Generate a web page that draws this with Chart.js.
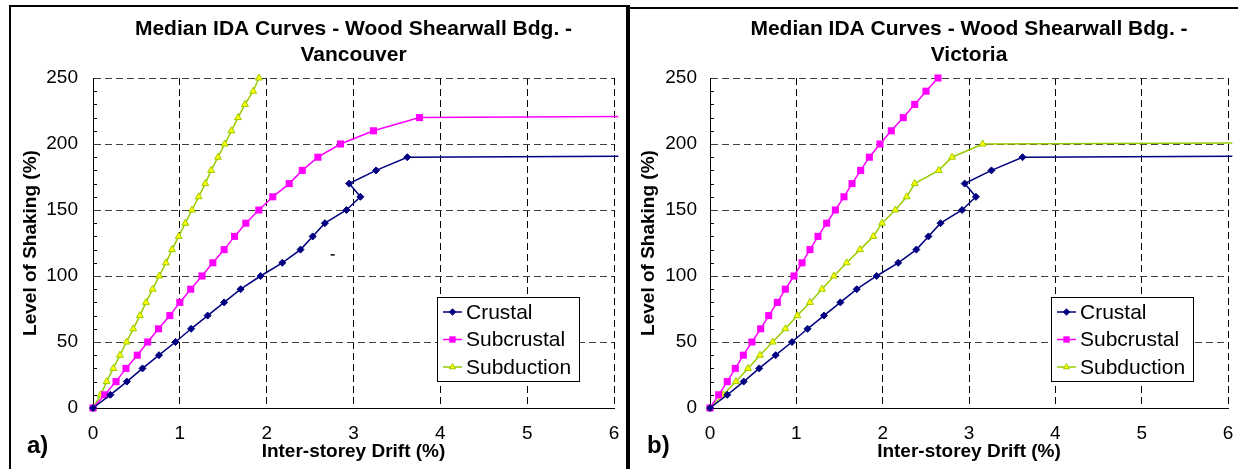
<!DOCTYPE html>
<html>
<head>
<meta charset="utf-8">
<script src="https://cdn.jsdelivr.net/npm/chart.js@4.4.0/dist/chart.umd.min.js"></script>
<style>
  body { margin: 0; background: #fff; width: 1238px; height: 469px; position: relative; overflow: hidden; }
  .panel { position: absolute; top: 0; height: 469px; }
  #pa { left: 0; width: 626px; }
  #pb { left: 629px; width: 609px; }
  .rule { position: absolute; background: #000; }
</style>
</head>
<body>
<div class="panel" id="pa"><canvas id="chartA" width="626" height="469"></canvas></div>
<div class="panel" id="pb"><canvas id="chartB" width="609" height="469"></canvas></div>
<div class="rule" style="left:9px;top:5px;width:2px;height:464px"></div>
<div class="rule" style="left:9px;top:5px;width:617px;height:2px"></div>
<div class="rule" style="left:626px;top:5px;width:4px;height:464px"></div>
<div class="rule" style="left:629px;top:7px;width:609px;height:2px"></div>

<script>
// values: drift (%) vs level of shaking (%)
const crustalDrift = [0, 0.20, 0.39, 0.57, 0.76, 0.95, 1.13, 1.32, 1.51, 1.70, 1.93, 2.18, 2.39, 2.53, 2.67, 2.92, 3.08, 2.95, 3.26, 3.62, 6.05];
const crustalLevel = [0, 10, 20, 30, 40, 50, 60, 70, 80, 90, 100, 110, 120, 130, 140, 150, 160, 170, 180, 190, 190.8];

const vanSubcrustalDrift = [0, 0.135, 0.265, 0.38, 0.51, 0.63, 0.755, 0.885, 1.00, 1.125, 1.255, 1.38, 1.51, 1.63, 1.76, 1.91, 2.07, 2.26, 2.41, 2.59, 2.85, 3.23, 3.76, 6.05];
const vanSubcrustalLevel = [0, 10, 20, 30, 40, 50, 60, 70, 80, 90, 100, 110, 120, 130, 140, 150, 160, 170, 180, 190, 200, 210, 220, 220.8];

const vanSubductionDrift = [0, 0.088, 0.157, 0.234, 0.31, 0.387, 0.464, 0.54, 0.61, 0.687, 0.763, 0.84, 0.91, 0.987, 1.063, 1.14, 1.217, 1.293, 1.36, 1.44, 1.517, 1.594, 1.67, 1.75, 1.845, 1.91];
const vanSubductionLevel = [0, 10, 20, 30, 40, 50, 60, 70, 80, 90, 100, 110, 120, 130, 140, 150, 160, 170, 180, 190, 200, 210, 220, 230, 240, 250];

const vicSubcrustalDrift = [0, 0.10, 0.20, 0.293, 0.386, 0.486, 0.587, 0.68, 0.78, 0.873, 0.973, 1.066, 1.158, 1.251, 1.351, 1.452, 1.552, 1.645, 1.745, 1.846, 1.969, 2.10, 2.239, 2.371, 2.502, 2.641];
const vicSubcrustalLevel = [0, 10, 20, 30, 40, 50, 60, 70, 80, 90, 100, 110, 120, 130, 140, 150, 160, 170, 180, 190, 200, 210, 220, 230, 240, 250];

const vicSubductionDrift = [0, 0.154, 0.301, 0.44, 0.579, 0.726, 0.873, 1.012, 1.158, 1.297, 1.436, 1.583, 1.737, 1.892, 1.992, 2.147, 2.278, 2.371, 2.649, 2.803, 3.158, 6.05];
const vicSubductionLevel = [0, 10, 20, 30, 40, 50, 60, 70, 80, 90, 100, 110, 120, 130, 140, 150, 160, 170, 180, 190, 200, 200.8];

const strayMark = [{ x: 2.76, y: 116 }];

const seriesNames = ['Crustal', 'Subcrustal', 'Subduction'];
const xTicks = [0, 1, 2, 3, 4, 5, 6];
const yTicks = [0, 50, 100, 150, 200, 250];
const minorTicks = [10, 20, 30, 40, 60, 70, 80, 90, 110, 120, 130, 140, 160, 170, 180, 190, 210, 220, 230, 240];

const FONT = 'Arial, "Liberation Sans", sans-serif';

const pts = (xs, ys) => xs.map((x, i) => ({ x: x, y: ys[i] }));
// points past the right edge only carry the line out, no marker
const radiusFor = r => ctx => (ctx.raw && ctx.raw.x > 6 ? 0 : r);

function crustalSet() {
  return {
    label: seriesNames[0], data: pts(crustalDrift, crustalLevel),
    borderColor: '#000080', backgroundColor: '#000080', borderWidth: 1.5,
    pointStyle: 'rectRot', pointRadius: radiusFor(3.5), pointBorderWidth: 1, legendRadius: 3.2
  };
}
function subcrustalSet(xs, ys) {
  return {
    label: seriesNames[1], data: pts(xs, ys),
    borderColor: '#FF00FF', backgroundColor: '#FF00FF', borderWidth: 1.5,
    pointStyle: 'rect', pointRadius: radiusFor(5), pointBorderWidth: 0, legendRadius: 4.5
  };
}
function subductionSet(xs, ys) {
  return {
    label: seriesNames[2], data: pts(xs, ys),
    borderColor: '#99CC00', backgroundColor: '#FFFF00', borderWidth: 1.5,
    pointStyle: 'triangle', pointRadius: radiusFor(4), pointBorderWidth: 1, legendRadius: 3.5
  };
}

// minor y ticks, in-plot legend and panel tag
const extras = {
  id: 'extras',
  afterDraw(chart, args, opts) {
    const { ctx, chartArea: a, scales: { y } } = chart;
    ctx.save();
    ctx.strokeStyle = '#000';
    ctx.lineWidth = 1;
    minorTicks.forEach(v => {
      const py = Math.round(y.getPixelForValue(v)) + 0.5;
      ctx.beginPath(); ctx.moveTo(a.left, py); ctx.lineTo(a.left + 4, py); ctx.stroke();
    });

    const bw = 142, bh = 84;
    const bx = a.right - 35 - bw, by = a.bottom - 27 - bh;
    ctx.fillStyle = '#fff';
    ctx.fillRect(bx, by, bw, bh);
    ctx.strokeRect(Math.round(bx) + 0.5, Math.round(by) + 0.5, bw, bh);
    ctx.font = '21px ' + FONT;
    ctx.textBaseline = 'middle';
    ctx.textAlign = 'left';
    chart.data.datasets.filter(d => d.label).forEach((d, i) => {
      const ry = by + 15 + i * 27.5;
      ctx.strokeStyle = d.borderColor;
      ctx.lineWidth = d.borderWidth;
      ctx.beginPath(); ctx.moveTo(bx + 6, ry); ctx.lineTo(bx + 25, ry); ctx.stroke();
      ctx.fillStyle = d.backgroundColor;
      ctx.lineWidth = d.pointBorderWidth;
      Chart.helpers.drawPoint(ctx, { pointStyle: d.pointStyle, radius: d.legendRadius, rotation: 0, borderWidth: d.pointBorderWidth }, bx + 15.5, ry);
      ctx.fillStyle = '#000';
      ctx.fillText(d.label, bx + 29, ry + 1);
    });

    ctx.font = 'bold 24px ' + FONT;
    ctx.textBaseline = 'alphabetic';
    ctx.fillStyle = '#000';
    ctx.fillText(opts.tag, opts.tagX, 453);
    ctx.restore();
  }
};

function makeChart(id, cfg) {
  return new Chart(document.getElementById(id), {
    type: 'line',
    data: { datasets: cfg.datasets },
    options: {
      responsive: false,
      animation: false,
      events: [],
      layout: { padding: { left: 0, right: cfg.padRight, top: 0, bottom: 0 } },
      datasets: { line: { clip: 6, tension: 0, fill: false } },
      scales: {
        x: {
          type: 'linear', min: 0, max: 6,
          afterBuildTicks: s => { s.ticks = xTicks.map(v => ({ value: v })); },
          afterFit: s => { s.height = 61; s.paddingLeft = 0; s.paddingRight = 0; },
          ticks: { color: '#000', font: { family: FONT, size: 19 }, padding: 14 },
          grid: { color: '#000', lineWidth: 1, drawTicks: false },
          border: { display: true, color: '#000', width: 1, dash: [7, 4] },
          title: { display: true, text: 'Inter-storey Drift (%)', color: '#000', font: { family: FONT, size: 19, weight: 'bold' }, padding: { top: 0, bottom: 5.6 } }
        },
        y: {
          type: 'linear', min: 0, max: 250,
          afterBuildTicks: s => { s.ticks = yTicks.map(v => ({ value: v })); },
          afterFit: s => { s.width = cfg.yWidth; },
          ticks: { color: '#000', font: { family: FONT, size: 19 }, padding: cfg.yPad },
          grid: { color: '#404040', lineWidth: 1, drawTicks: false },
          border: { display: true, color: '#000', width: 1, dash: [7, 4] },
          title: { display: true, text: 'Level of Shaking (%)', color: '#000', font: { family: FONT, size: 19, weight: 'bold' }, padding: { top: cfg.yTitlePad, bottom: 0 } }
        }
      },
      plugins: {
        legend: { display: false },
        tooltip: { enabled: false },
        title: {
          display: true, fullSize: false, color: '#000',
          text: ['Median IDA Curves - Wood Shearwall Bdg. -', cfg.city],
          font: { family: FONT, size: 21, weight: 'bold', lineHeight: 1.2 },
          padding: { top: 17, bottom: 10.6 }
        },
        extras: { tag: cfg.tag, tagX: cfg.tagX }
      }
    },
    plugins: [extras]
  });
}

makeChart('chartA', {
  city: 'Vancouver', tag: 'a)', tagX: 27, yWidth: 93, yPad: 15, yTitlePad: 19.6, padRight: 12,
  datasets: [
    crustalSet(),
    subcrustalSet(vanSubcrustalDrift, vanSubcrustalLevel),
    subductionSet(vanSubductionDrift, vanSubductionLevel),
    { label: '', data: strayMark, showLine: false, pointStyle: 'line', pointRadius: 2, borderColor: '#000', borderWidth: 1.5 }
  ]
});

makeChart('chartB', {
  city: 'Victoria', tag: 'b)', tagX: 18, yWidth: 81, yPad: 13, yTitlePad: 8, padRight: 10,
  datasets: [
    crustalSet(),
    subcrustalSet(vicSubcrustalDrift, vicSubcrustalLevel),
    subductionSet(vicSubductionDrift, vicSubductionLevel)
  ]
});
</script>
</body>
</html>
